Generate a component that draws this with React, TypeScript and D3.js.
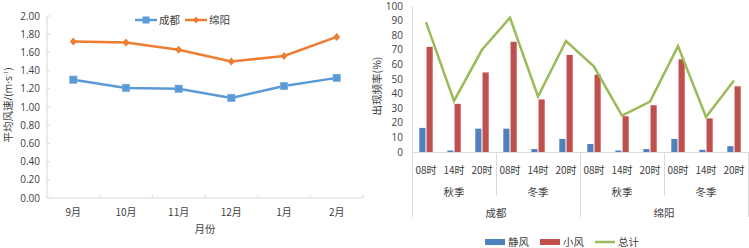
import React from "react";
import * as d3 from "d3";

const months = ["9月", "10月", "11月", "12月", "1月", "2月"];
const chengduSpeed = [1.3, 1.21, 1.2, 1.1, 1.23, 1.32];
const mianyangSpeed = [1.72, 1.71, 1.63, 1.5, 1.56, 1.77];
const speedTicks = [0, 0.2, 0.4, 0.6, 0.8, 1.0, 1.2, 1.4, 1.6, 1.8, 2.0];

const hours = ["08时", "14时", "20时"];
const seasons = ["秋季", "冬季"];
const cities = ["成都", "绵阳"];
const calmWind = [16.5, 1, 16, 16, 2, 9, 5.5, 1, 2, 9, 1.5, 4];
const lightWind = [72, 33, 54.5, 75.5, 36, 66.5, 53, 24.5, 32, 63.5, 23, 45];
const totalFreq = [89, 35, 70, 92, 38, 76, 58.5, 25, 34.5, 72.5, 24, 49];
const freqTicks = [0, 10, 20, 30, 40, 50, 60, 70, 80, 90, 100];

const NUM = "'Open Sans', 'Liberation Sans', sans-serif";
const CJK = "'Noto Sans CJK SC', sans-serif";
const TXT = "#404040";
const AX = "#d9d9d9";

export default function App() {
  // Left chart
  const x1 = d3.scaleBand<string>().domain(months).range([47, 363]);
  const y1 = d3.scaleLinear().domain([0, 2]).range([198, 16]);
  const line1 = d3
    .line<number>()
    .x((_, i) => (x1(months[i]) as number) + x1.bandwidth() / 2)
    .y((d) => y1(d));

  // Right chart
  const cats: { h: string; s: string; c: string; key: string }[] = [];
  cities.forEach((c) =>
    seasons.forEach((s) => hours.forEach((h) => cats.push({ h, s, c, key: `${c}-${s}-${h}` })))
  );
  const keys = cats.map((d) => d.key);
  const x2 = d3.scaleBand<string>().domain(keys).range([412, 748]);
  const inner = d3
    .scaleBand<string>()
    .domain(["静风", "小风"])
    .range([7.3, 20.7])
    .paddingInner(0.15);
  const y2 = d3.scaleLinear().domain([0, 100]).range([152, 6]);
  const line2 = d3
    .line<number>()
    .x((_, i) => (x2(keys[i]) as number) + x2.bandwidth() / 2)
    .y((d) => y2(d));

  const bw = x2.bandwidth();
  const seasonBoundaries = [0, 3, 6, 9, 12];

  return (
    <svg
      width={749}
      height={248}
      style={{ position: "absolute", left: 0, top: 0, background: "#fff" }}
    >
      {/* ---------- Left chart ---------- */}
      <line x1={47} x2={47} y1={16} y2={198} stroke={AX} />
      <line x1={47} x2={363} y1={198} y2={198} stroke={AX} />
      {speedTicks.map((t) => (
        <g key={t}>
          <line x1={47} x2={50} y1={y1(t)} y2={y1(t)} stroke={AX} />
          <text
            x={40}
            y={y1(t)}
            dy="0.35em"
            textAnchor="end"
            fontSize={10}
            fontFamily={NUM}
            fill={TXT}
          >
            {t.toFixed(2)}
          </text>
        </g>
      ))}
      {months.map((m, i) => (
        <g key={m}>
          <line
            x1={(x1(m) as number) + x1.bandwidth()}
            x2={(x1(m) as number) + x1.bandwidth()}
            y1={198}
            y2={195}
            stroke={AX}
          />
          <text
            x={(x1(m) as number) + x1.bandwidth() / 2}
            y={212}
            dy="0.35em"
            textAnchor="middle"
            fontSize={10}
            fontFamily={CJK}
            fill={TXT}
          >
            {m}
          </text>
        </g>
      ))}
      <text x={205} y={229} dy="0.35em" textAnchor="middle" fontSize={10.5} fontFamily={CJK} fill={TXT}>
        月份
      </text>
      <text
        transform="translate(8,105) rotate(-90)"
        textAnchor="middle"
        dy="0.35em"
        fontSize={10.5}
        fontFamily={CJK}
        fill={TXT}
      >
        平均风速
        <tspan fontFamily={NUM}>/(m·s</tspan>
        <tspan dy="-4" fontSize={6} fontFamily={NUM}>-1</tspan>
        <tspan dy="4" fontFamily={NUM}>)</tspan>
      </text>
      <path d={line1(chengduSpeed) as string} fill="none" stroke="#5B9BD5" strokeWidth={2.5} />
      <path d={line1(mianyangSpeed) as string} fill="none" stroke="#ED7D31" strokeWidth={2.5} />
      {chengduSpeed.map((v, i) => (
        <rect
          key={"cd" + i}
          x={(x1(months[i]) as number) + x1.bandwidth() / 2 - 3.7}
          y={y1(v) - 3.7}
          width={7.4}
          height={7.4}
          fill="#5B9BD5"
          stroke="#7fb0de"
          strokeWidth={0.6}
        />
      ))}
      {mianyangSpeed.map((v, i) => {
        const cx = (x1(months[i]) as number) + x1.bandwidth() / 2;
        const cy = y1(v);
        return (
          <path
            key={"my" + i}
            d={`M${cx},${cy - 4}L${cx + 3.5},${cy}L${cx},${cy + 4}L${cx - 3.5},${cy}Z`}
            fill="#ED7D31"
          />
        );
      })}
      {/* legend left */}
      <line x1={135} x2={157} y1={20} y2={20} stroke="#5B9BD5" strokeWidth={2.5} />
      <rect x={142.5} y={16.5} width={7} height={7} fill="#5B9BD5" />
      <text x={159} y={20} dy="0.35em" fontSize={10.5} fontFamily={CJK} fill={TXT}>
        成都
      </text>
      <line x1={185} x2={207} y1={20} y2={20} stroke="#ED7D31" strokeWidth={2.5} />
      <path d="M196,16.5L199,20L196,23.5L193,20Z" fill="#ED7D31" />
      <text x={209} y={20} dy="0.35em" fontSize={10.5} fontFamily={CJK} fill={TXT}>
        绵阳
      </text>

      {/* ---------- Right chart ---------- */}
      <line x1={412.5} x2={412.5} y1={6} y2={152} stroke={AX} />
      {freqTicks.map((t) => (
        <text
          key={t}
          x={403}
          y={y2(t)}
          dy="0.35em"
          textAnchor="end"
          fontSize={10}
          fontFamily={NUM}
          fill={TXT}
        >
          {t}
        </text>
      ))}
      <text
        transform="translate(377,86) rotate(-90)"
        textAnchor="middle"
        dy="0.35em"
        fontSize={10.5}
        fontFamily={CJK}
        fill={TXT}
      >
        出现频率(%)
      </text>
      {cats.map((c, i) => {
        const x0 = x2(c.key) as number;
        return (
          <g key={c.key}>
            <rect
              x={x0 + (inner("静风") as number)}
              y={y2(calmWind[i])}
              width={inner.bandwidth()}
              height={y2(0) - y2(calmWind[i])}
              fill="#4F81BD"
            />
            <rect
              x={x0 + (inner("小风") as number)}
              y={y2(lightWind[i])}
              width={inner.bandwidth()}
              height={y2(0) - y2(lightWind[i])}
              fill="#C0504D"
            />
            <text
              x={x0 + bw / 2}
              y={170}
              dy="0.35em"
              textAnchor="middle"
              fontSize={10}
              fontFamily={CJK}
              fill={TXT}
            >
              {c.h}
            </text>
          </g>
        );
      })}
      <line x1={412} x2={748} y1={152.5} y2={152.5} stroke={AX} />
      <path d={line2(totalFreq) as string} fill="none" stroke="#9BBB59" strokeWidth={2.5} />
      {seasonBoundaries.map((b, j) => {
        const xx =
          b < keys.length ? (x2(keys[b]) as number) : (x2(keys[keys.length - 1]) as number) + bw;
        const full = b % 6 === 0;
        return (
          <line
            key={"sep" + j}
            x1={xx + 0.5}
            x2={xx + 0.5}
            y1={152}
            y2={full ? 217 : 196}
            stroke={AX}
          />
        );
      })}
      {cities.map((c, ci) =>
        seasons.map((s, si) => {
          const start = ci * 6 + si * 3;
          const cx = (x2(keys[start]) as number) + (bw * 3) / 2;
          return (
            <text
              key={c + s}
              x={cx}
              y={192}
              dy="0.35em"
              textAnchor="middle"
              fontSize={10.5}
              fontFamily={CJK}
              fill={TXT}
            >
              {s}
            </text>
          );
        })
      )}
      {cities.map((c, ci) => {
        const cx = (x2(keys[ci * 6]) as number) + bw * 3;
        return (
          <text
            key={c}
            x={cx}
            y={213}
            dy="0.35em"
            textAnchor="middle"
            fontSize={10.5}
            fontFamily={CJK}
            fill={TXT}
          >
            {c}
          </text>
        );
      })}
      {/* legend right */}
      <rect x={485} y={239} width={20} height={6} fill="#4F81BD" />
      <text x={508} y={242} dy="0.35em" fontSize={10.5} fontFamily={CJK} fill={TXT}>
        静风
      </text>
      <rect x={540} y={239} width={20} height={6} fill="#C0504D" />
      <text x={563} y={242} dy="0.35em" fontSize={10.5} fontFamily={CJK} fill={TXT}>
        小风
      </text>
      <line x1={595} x2={615} y1={242} y2={242} stroke="#9BBB59" strokeWidth={2.5} />
      <text x={618} y={242} dy="0.35em" fontSize={10.5} fontFamily={CJK} fill={TXT}>
        总计
      </text>
    </svg>
  );
}
